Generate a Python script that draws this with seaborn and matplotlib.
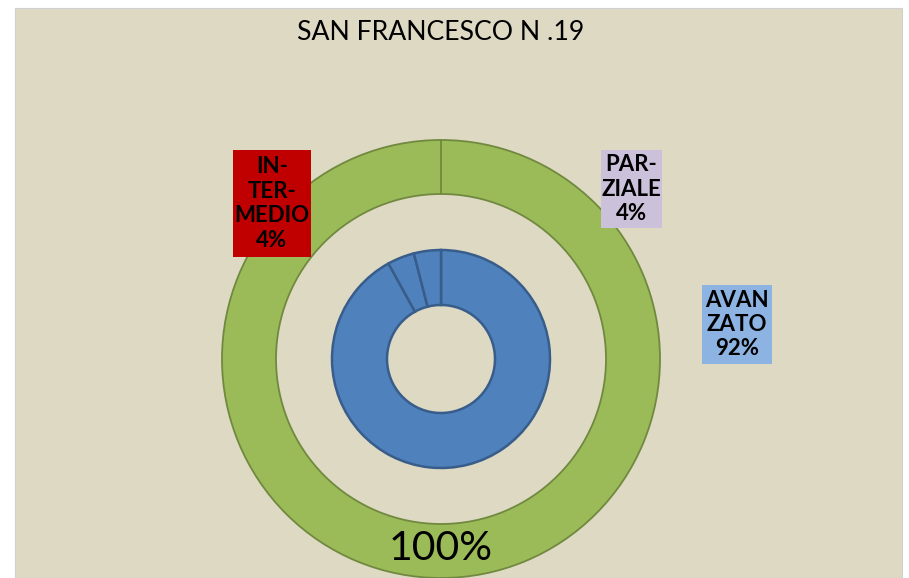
import matplotlib
matplotlib.use("Agg")
import matplotlib.pyplot as plt
from matplotlib.patches import Rectangle
import seaborn as sns

# ---- data ----
title = "SAN FRANCESCO N .19"
outer_labels = ["TOTALE"]
outer_values = [100]
inner_labels = ["AVAN\nZATO", "PAR-\nZIALE", "IN-\nTER-\nMEDIO"]
inner_values = [92, 4, 4]
outer_text = "100%"

sns.set_style("white")
plt.rcParams["font.family"] = ["Lato", "DejaVu Sans"]

W, H = 909, 578
fig = plt.figure(figsize=(W / 100, H / 100), dpi=100, facecolor="white")
ax = fig.add_axes([0, 0, 1, 1])
ax.set_xlim(0, W)
ax.set_ylim(0, H)
ax.set_aspect("equal")
ax.axis("off")

def Y(y):
    return H - y

# chart area background
ax.add_patch(Rectangle((15, 0), 887, Y(8), facecolor="#DDD9C3",
                       edgecolor="#D0D0D0", linewidth=0.8, zorder=0))

cx, cy = 441, Y(359)
r_out, w_out = 219, 54
r_in, w_in = 109, 55

# outer ring
wedges_o, _ = ax.pie(outer_values, radius=r_out, center=(cx, cy), startangle=90,
                     counterclock=False, colors=["#9BBB59"],
                     wedgeprops=dict(width=w_out, edgecolor="#71893F", linewidth=1.3))
# seam of the full-circle slice at the start angle
ax.plot([cx, cx], [cy + r_out - w_out, cy + r_out], color="#71893F", lw=1.3, zorder=3)

# inner ring
ax.pie(inner_values, radius=r_in, center=(cx, cy), startangle=90,
       counterclock=False, colors=["#4F81BD"] * 3,
       wedgeprops=dict(width=w_in, edgecolor="#385D8A", linewidth=1.8))

ax.set_xlim(0, W)
ax.set_ylim(0, H)

# title
ax.text(441, Y(32), title, ha="center", va="center", fontsize=19.2, color="black")

# 100% label
ax.text(441, Y(548), outer_text, ha="center", va="center", fontsize=29.5, color="black")

# data labels with boxes
boxes = [
    (inner_labels[0], inner_values[0], (702, 285, 772, 364), "#8DB3E2"),
    (inner_labels[1], inner_values[1], (601, 150, 662, 228), "#CCC1DA"),
    (inner_labels[2], inner_values[2], (233, 150, 311, 257), "#C00000"),
]
for lab, val, (x0, y0, x1, y1), col in boxes:
    ax.add_patch(Rectangle((x0, Y(y1)), x1 - x0, y1 - y0, facecolor=col,
                           edgecolor="none", zorder=3))
    ax.text((x0 + x1) / 2, Y((y0 + y1) / 2), f"{lab}\n{val}%", ha="center",
            va="center", fontsize=16, fontweight="bold", color="black",
            linespacing=1.2, zorder=4)

fig.savefig("out.png", dpi=100, facecolor="white")
